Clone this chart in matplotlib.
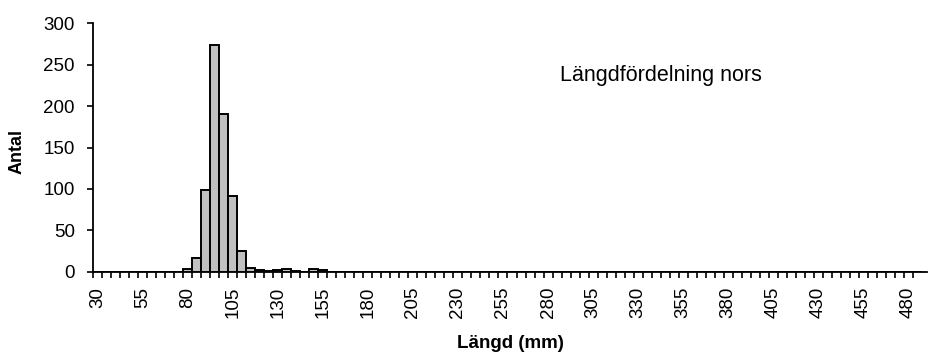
import matplotlib
matplotlib.use("Agg")
import matplotlib.pyplot as plt

plt.rcParams['font.family'] = ['Liberation Sans', 'DejaVu Sans']

# 5 mm length classes shown on the category axis (lower bound, mm)
length_classes = list(range(30, 490, 5))
# classes that hold fish, and the number of fish in each
caught_lengths = [80, 85, 90, 95, 100, 105, 110, 115, 120, 125, 130, 135, 140, 150, 155]
caught_counts = [3, 17, 99, 274, 190, 92, 25, 5, 2, 1, 2, 3, 1, 3, 2]
label_every = 5

counts = [0] * len(length_classes)
for length, n in zip(caught_lengths, caught_counts):
    counts[length_classes.index(length)] = n

W, H = 930, 355
fig = plt.figure(figsize=(W / 100, H / 100), dpi=100)
left, right, bottom, top = 93, 926.5, 271.7, 23.3
ax = fig.add_axes([left / W, 1 - bottom / H, (right - left) / W, (bottom - top) / H])

pos = list(range(len(length_classes)))
ax.bar(pos, counts, width=1.0, color='#c0c0c0', edgecolor='black', linewidth=1.4, zorder=3)

ax.set_xlim(-0.5, len(length_classes))
ax.set_ylim(0, 300)

for s in ('top', 'right'):
    ax.spines[s].set_visible(False)
for s in ('left', 'bottom'):
    ax.spines[s].set_linewidth(1.3)

ax.set_yticks(range(0, 301, 50))
ax.tick_params(axis='y', direction='out', length=4, width=1.2, pad=9, labelsize=13.5)

major = pos[::label_every]
ax.set_xticks(major)
ax.set_xticklabels([str(length_classes[i]) for i in major], rotation=90, fontsize=13.5)
ax.set_xticks([p - 0.5 for p in pos], minor=True)
ax.tick_params(axis='x', which='major', length=0, pad=11)
ax.tick_params(axis='x', which='minor', direction='out', length=4, width=1.2)

fig.text(17 / W, 1 - 151 / H, 'Antal', rotation=90, fontsize=13, fontweight='bold',
         ha='center', va='center')
fig.text(510 / W, 1 - 343 / H, 'Längd (mm)', fontsize=13.5, fontweight='bold',
         ha='center', va='center')
fig.text(560 / W, 1 - 76 / H, 'Längdfördelning nors', fontsize=15.5,
         ha='left', va='center')

fig.savefig('out.png', dpi=100)
